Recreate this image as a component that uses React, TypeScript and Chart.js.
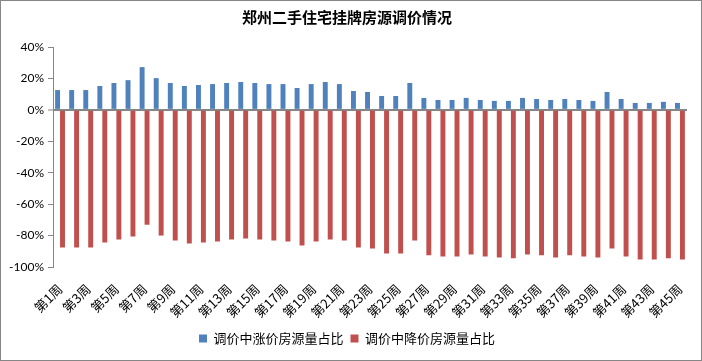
import React, { useEffect, useRef } from "react";
import { Chart, registerables } from "chart.js";

Chart.register(...registerables);

const weeks = [
  "第1周", "第2周", "第3周", "第4周", "第5周", "第6周", "第7周", "第8周", "第9周", "第10周",
  "第11周", "第12周", "第13周", "第14周", "第15周", "第16周", "第17周", "第18周", "第19周", "第20周",
  "第21周", "第22周", "第23周", "第24周", "第25周", "第26周", "第27周", "第28周", "第29周", "第30周",
  "第31周", "第32周", "第33周", "第34周", "第35周", "第36周", "第37周", "第38周", "第39周", "第40周",
  "第41周", "第42周", "第43周", "第44周", "第45周",
];

const upShare = [
  12.6, 12.6, 12.6, 15.2, 17.1, 18.9, 27.2, 20.2, 17.1, 15.2,
  15.8, 16.4, 17.1, 17.7, 17.1, 16.4, 16.4, 13.9, 16.4, 17.7,
  16.4, 12.0, 11.4, 8.8, 8.8, 17.1, 7.6, 6.3, 6.3, 7.6,
  6.3, 5.7, 5.7, 7.6, 6.9, 6.3, 6.9, 6.3, 5.7, 11.4,
  6.9, 4.4, 4.4, 5.1, 4.4,
];

const downShare = [
  -87.6, -87.6, -87.6, -84.4, -82.5, -80.6, -73.1, -80.0, -83.2, -85.1,
  -84.4, -83.8, -82.5, -81.9, -82.5, -83.2, -83.8, -86.3, -83.8, -82.5,
  -83.2, -87.6, -88.2, -91.4, -91.4, -83.2, -92.6, -93.3, -93.3, -92.0,
  -93.3, -93.9, -94.5, -92.0, -92.6, -93.9, -92.6, -93.3, -93.9, -88.2,
  -93.3, -95.2, -95.2, -94.5, -95.2,
];

const seriesNames = ["调价中涨价房源量占比", "调价中降价房源量占比"];
const titleText = "郑州二手住宅挂牌房源调价情况";

const CJK = '"Noto Sans CJK SC", "Noto Sans", sans-serif';
const NUM = 'Lato, "Noto Sans CJK SC", sans-serif';
const AXIS_GRAY = "#868686";

const framePlugin = {
  id: "frame",
  beforeDraw(chart: any) {
    const { ctx, width, height } = chart;
    ctx.save();
    ctx.fillStyle = "#ffffff";
    ctx.fillRect(0, 0, width, height);
    ctx.strokeStyle = AXIS_GRAY;
    ctx.lineWidth = 1;
    ctx.strokeRect(0.5, 0.5, width - 1, height - 1);
    ctx.restore();
  },
};

export default function App() {
  const ref = useRef<HTMLCanvasElement | null>(null);

  useEffect(() => {
    document.body.style.margin = "0";
    if (!ref.current) return;
    const chart = new Chart(ref.current, {
      type: "bar",
      data: {
        labels: weeks,
        datasets: [
          {
            label: seriesNames[0],
            data: upShare,
            backgroundColor: "#4F81BD",
            categoryPercentage: 0.7,
            barPercentage: 1.0,
          },
          {
            label: seriesNames[1],
            data: downShare,
            backgroundColor: "#C0504D",
            categoryPercentage: 0.7,
            barPercentage: 1.0,
          },
        ],
      },
      options: {
        responsive: false,
        animation: false,
        layout: { padding: { left: 7, right: 15, top: 0, bottom: 6 } },
        plugins: {
          title: {
            display: true,
            text: titleText,
            color: "#000",
            font: { family: CJK, size: 15, weight: "bold" },
            padding: { top: 8, bottom: 21 },
          },
          legend: {
            position: "bottom",
            labels: {
              boxWidth: 8,
              boxHeight: 8,
              padding: 7,
              color: "#000",
              font: { family: CJK, size: 13 },
            },
          },
          tooltip: { enabled: false },
        },
        scales: {
          x: {
            grid: { display: false },
            border: { display: false },
            ticks: {
              autoSkip: false,
              maxRotation: 45,
              minRotation: 45,
              color: "#000",
              font: { family: CJK, size: 13 },
              padding: 6,
              callback: (_v: any, i: number) => (i % 2 === 0 ? weeks[i] : ""),
            },
            afterFit: (s: any) => {
              s.height = 58;
            },
          },
          y: {
            min: -100,
            max: 40,
            ticks: {
              stepSize: 20,
              color: "#000",
              padding: 4,
              font: { family: NUM, size: 12 },
              callback: (v: any) => v + "%",
            },
            border: { display: true, color: AXIS_GRAY, width: 1 },
            grid: {
              drawOnChartArea: true,
              drawTicks: true,
              tickLength: 5,
              tickColor: AXIS_GRAY,
              tickWidth: 1,
              color: (c: any) => (c.tick && c.tick.value === 0 ? AXIS_GRAY : "rgba(0,0,0,0)"),
              lineWidth: (c: any) => (c.tick && c.tick.value === 0 ? 2 : 1),
            },
            afterFit: (s: any) => {
              s.width = 46;
            },
          },
        },
      },
      plugins: [framePlugin],
    } as any);
    return () => chart.destroy();
  }, []);

  return (
    <div style={{ position: "absolute", left: 0, top: 0, width: 702, height: 361 }}>
      <canvas ref={ref} width={702} height={361} style={{ display: "block" }} />
    </div>
  );
}
